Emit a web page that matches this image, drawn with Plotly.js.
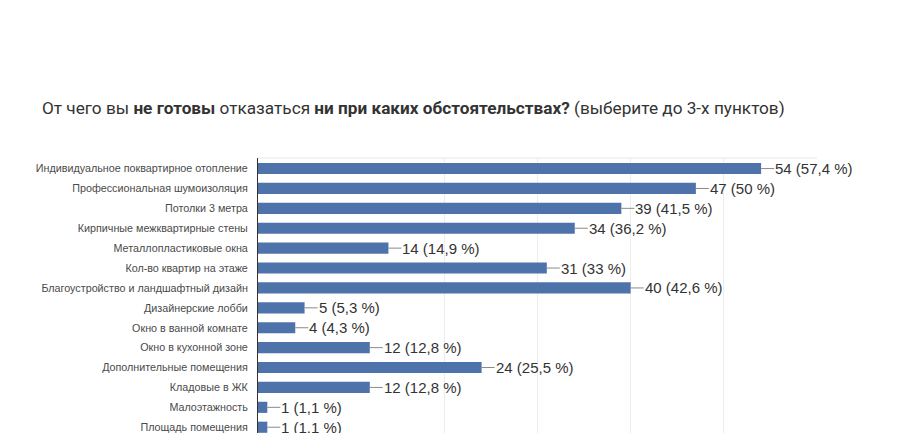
<!DOCTYPE html>
<html>
<head>
<meta charset="utf-8">
<script src="https://cdn.plot.ly/plotly-3.0.1.min.js"></script>
<style>html,body{margin:0;padding:0;background:#fff;}#chart{width:900px;height:433px;}</style>
</head>
<body>
<div id="chart"></div>
<script>
const categories = [
  "Индивидуальное поквартирное отопление",
  "Профессиональная шумоизоляция",
  "Потолки 3 метра",
  "Кирпичные межквартирные стены",
  "Металлопластиковые окна",
  "Кол-во квартир на этаже",
  "Благоустройство и ландшафтный дизайн",
  "Дизайнерские лобби",
  "Окно в ванной комнате",
  "Окно в кухонной зоне",
  "Дополнительные помещения",
  "Кладовые в ЖК",
  "Малоэтажность",
  "Площадь помещения"
];
const counts = [54, 47, 39, 34, 14, 31, 40, 5, 4, 12, 24, 12, 1, 1];
const percents = [57.4, 50, 41.5, 36.2, 14.9, 33, 42.6, 5.3, 4.3, 12.8, 25.5, 12.8, 1.1, 1.1];
const gridTicks = [20, 30, 40, 50, 60];

const labels = counts.map((c, i) => c + " (" + String(percents[i]).replace(".", ",") + " %)");

const trace = {
  type: "bar",
  orientation: "h",
  y: categories,
  x: counts,
  width: 0.56,
  marker: {color: "#4e72aa"},
  hoverinfo: "none"
};

const annotations = counts.map((c, i) => ({
  x: c, y: categories[i], xref: "x", yref: "y",
  text: labels[i],
  showarrow: true, arrowhead: 0, arrowwidth: 1, arrowcolor: "#8a8a8a",
  ax: 13, ay: 0, standoff: 0, startstandoff: 0,
  xanchor: "left", yanchor: "middle", borderpad: 0,
  font: {family: "Liberation Sans, Arial, sans-serif", size: 15, color: "#333"}
}));

const layout = {
  width: 900, height: 433,
  margin: {l: 258, r: 83, t: 158, b: 0, pad: 0},
  paper_bgcolor: "#fff", plot_bgcolor: "#fff",
  showlegend: false,
  title: {
    text: "От чего вы <b>не готовы</b> отказаться <b>ни при каких обстоятельствах?</b> (выберите до 3-х пунктов)",
    x: 42/900, xanchor: "left", xref: "container",
    y: 1 - 108/433, yanchor: "middle", yref: "container",
    font: {family: "Roboto, sans-serif", size: 17.2, color: "#333"}
  },
  xaxis: {
    range: [0, 60], showticklabels: false, ticks: "",
    tickvals: gridTicks, showgrid: true, gridcolor: "#ececec", gridwidth: 1,
    zeroline: false, showline: false, fixedrange: true
  },
  yaxis: {
    type: "category", range: [13.29, -0.53], showgrid: false,
    ticks: "", ticklabelstandoff: 7,
    tickfont: {family: "Liberation Sans, Arial, sans-serif", size: 10.75, color: "#4a4a4a"},
    showline: true, linecolor: "#333", linewidth: 1, zeroline: false, fixedrange: true
  },
  shapes: [{type: "line", xref: "paper", yref: "paper", x0: 0, x1: 1, y0: 1, y1: 1,
            line: {color: "#e6e6e6", width: 1}}],
  annotations: annotations
};

Plotly.newPlot("chart", [trace], layout, {displayModeBar: false, staticPlot: true});
</script>
</body>
</html>
